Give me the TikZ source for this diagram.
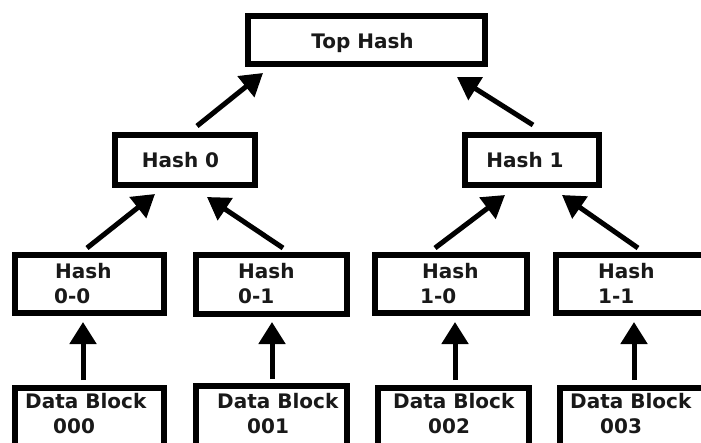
\documentclass[tikz,border=0pt]{standalone}
\usepackage{fontspec}
\setmainfont{DejaVu Sans}
\usetikzlibrary{arrows.meta,calc}

\tikzset{
  hbox/.style={draw=black, line width=6pt, fill=white, inner sep=0pt, outer sep=3pt},
  lbl/.style={inner sep=0pt, font=\fontsize{20}{24}\selectfont\bfseries, text=black!90},
  arr/.style={line width=5pt, -{Triangle[length=22pt,width=26pt]}, shorten >=0pt}
}

\begin{document}
\begin{tikzpicture}[x=1pt,y=-1pt]
\useasboundingbox (0,0) rectangle (701,442);
\clip (0,0) rectangle (701,442);
\fill[white] (0,0) rectangle (701,442);

% boxes of the tree
\node[hbox, minimum width=237pt, minimum height=48pt] (top) at (366.5,40) {};
\node[hbox, minimum width=140pt, minimum height=50pt] (h0) at (185,160) {};
\node[hbox, minimum width=134pt, minimum height=50pt] (h1) at (532,160) {};
\node[hbox, minimum width=149pt, minimum height=58pt] (h00) at (89.5,284) {};
\node[hbox, minimum width=151pt, minimum height=59pt] (h01) at (271.5,284.5) {};
\node[hbox, minimum width=152pt, minimum height=58pt] (h10) at (451,284) {};
\node[hbox, minimum width=168pt, minimum height=58pt] (h11) at (640,284) {};
\node[hbox, minimum width=149pt, minimum height=92pt] (d000) at (89.5,434) {};
\node[hbox, minimum width=151pt, minimum height=94pt] (d001) at (271.5,433) {};
\node[hbox, minimum width=151pt, minimum height=92pt] (d002) at (453.5,434) {};
\node[hbox, minimum width=170pt, minimum height=92pt] (d003) at (645,434) {};

% labels
\node[lbl, anchor=base] (ttop) at (362.5,48) {Top Hash};
\node[lbl, anchor=base] (th0) at (180.5,167) {Hash 0};
\node[lbl, anchor=base] (th1) at (525,167) {Hash 1};

\node[lbl, anchor=base west] (t00a) at (55,278) {Hash};
\node[lbl, anchor=base west] (t00b) at (54,303) {0-0};
\node[lbl, anchor=base west] (t01a) at (238,278) {Hash};
\node[lbl, anchor=base west] (t01b) at (238,303) {0-1};
\node[lbl, anchor=base west] (t10a) at (422,278) {Hash};
\node[lbl, anchor=base west] (t10b) at (420,303) {1-0};
\node[lbl, anchor=base west] (t11a) at (598,278) {Hash};
\node[lbl, anchor=base west] (t11b) at (598,303) {1-1};

\node[lbl, anchor=base west] (td0a) at (25,408) {Data Block};
\node[lbl, anchor=base west] (td0b) at (53,433) {000};
\node[lbl, anchor=base west] (td1a) at (217,408) {Data Block};
\node[lbl, anchor=base west] (td1b) at (247,433) {001};
\node[lbl, anchor=base west] (td2a) at (393,408) {Data Block};
\node[lbl, anchor=base west] (td2b) at (428,433) {002};
\node[lbl, anchor=base west] (td3a) at (570,408) {Data Block};
\node[lbl, anchor=base west] (td3b) at (600,433) {003};

% hashes feed upwards into their parent
\draw[arr] ($(h0.north)+(12,-6)$) -- ($(top.south)+(-103.5,6)$);
\draw[arr] ($(h1.north)+(1,-7)$) -- ($(top.south)+(90.5,10)$);
\draw[arr] ($(h00.north)+(-2.5,-4)$) -- ($(h0.south)+(-30,6)$);
\draw[arr] ($(h01.north)+(11.5,-4)$) -- ($(h0.south)+(22,9)$);
\draw[arr] ($(h10.north)+(-16,-4)$) -- ($(h1.south)+(-27,7)$);
\draw[arr] ($(h11.north)+(-2,-4)$) -- ($(h1.south)+(30,7)$);

% data blocks hashed into the leaves
\draw[arr] ($(d000.north)+(-6.5,-5)$) -- ($(h00.south)+(-6.5,6)$);
\draw[arr] ($(d001.north)+(0.5,-4)$) -- ($(h01.south)+(0.5,5)$);
\draw[arr] ($(d002.north)+(1.5,-5)$) -- ($(h10.south)+(4,6)$);
\draw[arr] ($(d003.north)+(-11,-5)$) -- ($(h11.south)+(-6,6)$);
\end{tikzpicture}
\end{document}
